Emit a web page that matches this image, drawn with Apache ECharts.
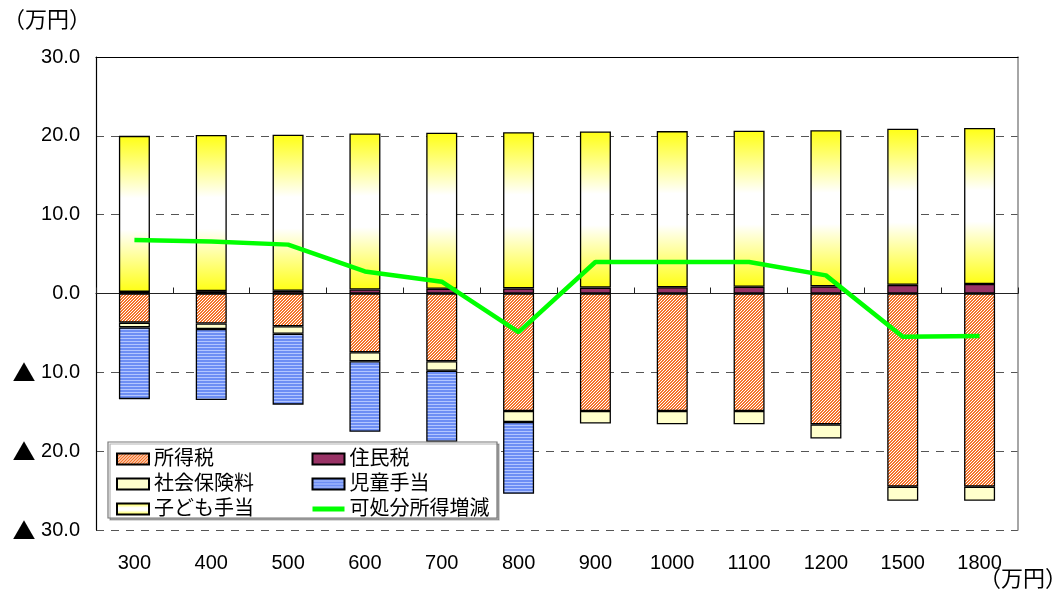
<!DOCTYPE html>
<html>
<head>
<meta charset="utf-8">
<script src="https://cdn.jsdelivr.net/npm/echarts@6/dist/echarts.min.js"></script>
<style>
  html, body { margin: 0; padding: 0; background: #fff; }
  #chart { width: 1057px; height: 591px; }
</style>
</head>
<body>
<div id="chart"></div>
<script>
// 年収別の家計への影響（万円）
const categories = ['300', '400', '500', '600', '700', '800', '900', '1000', '1100', '1200', '1500', '1800'];

const incomeTax       = [-3.7, -3.8, -4.15, -7.45, -8.6, -14.9, -14.9, -14.9, -14.9, -16.6, -24.5, -24.5];
const residentTax     = [0.2, 0.3, 0.35, 0.5, 0.6, 0.65, 0.75, 0.8, 0.85, 0.9, 1.1, 1.2];
const socialInsurance = [-0.6, -0.7, -0.95, -1.15, -1.2, -1.4, -1.6, -1.7, -1.7, -1.8, -1.8, -1.8];
const childBenefit    = [-9.1, -9.0, -9.0, -8.95, -9.0, -9.1, null, null, null, null, null, null];
const childAllowance  = [19.8, 19.8, 19.8, 19.8, 19.8, 19.8, 19.8, 19.8, 19.8, 19.8, 19.8, 19.8];
const disposableDiff  = [6.8, 6.6, 6.2, 2.8, 1.5, -4.9, 4.0, 4.0, 4.0, 2.3, -5.5, -5.4];

const yTickValues = [-30, -20, -10, 0, 10, 20, 30];
const yTickLabels = ['▲ 30.0', '▲ 20.0', '▲ 10.0', '0.0', '10.0', '20.0', '30.0'];
const unitLabel = '（万円）';

const FONT = '"Liberation Sans", "Noto Sans CJK JP", sans-serif';
const CJK = '"Noto Sans CJK JP", sans-serif';

// fine diagonal hatch (orange on white)
function hatchPattern() {
  const c = document.createElement('canvas');
  c.width = 3; c.height = 3;
  const g = c.getContext('2d');
  g.fillStyle = '#ffffff';
  g.fillRect(0, 0, 3, 3);
  g.fillStyle = '#f5742a';
  for (let i = 0; i < 3; i++) {
    g.fillRect(i, 2 - i, 1, 1);
    g.fillRect((i + 1) % 3, 2 - i, 1, 1);
  }
  return { image: c, repeat: 'repeat' };
}

// horizontal blue stripes
function stripePattern() {
  const c = document.createElement('canvas');
  c.width = 4; c.height = 3;
  const g = c.getContext('2d');
  g.fillStyle = '#6d8ef4';
  g.fillRect(0, 0, 4, 2);
  g.fillStyle = '#b3c6ff';
  g.fillRect(0, 2, 4, 1);
  return { image: c, repeat: 'repeat' };
}

const yellowGradient = {
  type: 'linear', x: 0, y: 0, x2: 0, y2: 1,
  colorStops: [
    { offset: 0, color: '#ffff14' },
    { offset: 0.4, color: '#ffffff' },
    { offset: 0.6, color: '#ffffff' },
    { offset: 1, color: '#ffff14' }
  ]
};

function barSeries(name, data, color) {
  return {
    type: 'bar',
    name: name,
    stack: 'total',
    barWidth: 31,
    xAxisIndex: 0,
    data: data,
    itemStyle: { color: color, borderColor: '#000', borderWidth: 1.3 },
    emphasis: { disabled: true }
  };
}

const chart = echarts.init(document.getElementById('chart'));

chart.setOption({
  animation: false,
  backgroundColor: '#ffffff',
  textStyle: { fontFamily: FONT },
  grid: { left: 96, right: 39, top: 57, bottom: 61, show: false },
  xAxis: [
    {
      // zero line with upward ticks between categories
      type: 'category',
      data: categories,
      axisLine: { onZero: true, lineStyle: { color: '#222', width: 1.2 } },
      axisTick: { show: true, inside: true, length: 6, lineStyle: { color: '#222' } },
      axisLabel: { show: false },
      splitLine: { show: false }
    },
    {
      // category labels along the bottom
      type: 'category',
      data: categories,
      position: 'bottom',
      axisLine: { show: false, onZero: false },
      axisTick: { show: false },
      axisLabel: { color: '#000', fontSize: 20, fontFamily: FONT, margin: 23 }
    },
    {
      // top frame
      type: 'category',
      data: categories,
      position: 'top',
      axisLine: { show: true, onZero: false, lineStyle: { color: '#000', width: 1.2 } },
      axisTick: { show: false },
      axisLabel: { show: false }
    }
  ],
  yAxis: [
    {
      type: 'value',
      min: -30, max: 30, interval: 10,
      axisLine: { show: true, lineStyle: { color: '#000', width: 1.2 } },
      axisTick: { show: false },
      axisLabel: {
        color: '#000', fontSize: 20, fontFamily: FONT, margin: 16,
        formatter: function (v) {
          const i = yTickValues.indexOf(Math.round(v));
          if (i < 0) return '';
          const s = yTickLabels[i];
          return s.charAt(0) === '▲' ? '{tri|▲} ' + s.slice(2) : s;
        },
        rich: {
          tri: { fontFamily: CJK, fontSize: 23, color: '#000' }
        }
      },
      splitLine: { show: true, lineStyle: { color: '#555', type: [8, 7], width: 1.2 } }
    },
    {
      // right frame
      type: 'value',
      min: -30, max: 30, interval: 10,
      position: 'right',
      axisLine: { show: true, lineStyle: { color: '#888', width: 1.5 } },
      axisTick: { show: false },
      axisLabel: { show: false },
      splitLine: { show: false }
    }
  ],
  legend: [
    {
      orient: 'vertical',
      left: 116, top: 449,
      padding: 0,
      icon: 'rect',
      itemWidth: 32, itemHeight: 11, itemGap: 5,
      selectedMode: false,
      textStyle: { fontSize: 20, color: '#000', fontFamily: FONT },
      data: ['所得税', '社会保険料', '子ども手当']
    },
    {
      orient: 'vertical',
      left: 310, top: 449,
      padding: 0,
      itemWidth: 32, itemHeight: 11, itemGap: 5,
      selectedMode: false,
      textStyle: { fontSize: 20, color: '#000', fontFamily: FONT },
      data: [
        { name: '住民税', icon: 'rect' },
        { name: '児童手当', icon: 'rect' },
        { name: '可処分所得増減', itemStyle: { opacity: 0 }, lineStyle: { width: 5, color: '#00ff00' } }
      ]
    }
  ],
  graphic: [
    {
      type: 'rect',
      z: 3,
      shape: { x: 108, y: 442, width: 389, height: 76 },
      style: { fill: '#ffffff', stroke: '#777', lineWidth: 1.2, shadowColor: 'rgba(0,0,0,0.3)', shadowOffsetX: 2, shadowOffsetY: 2, shadowBlur: 0 }
    },
    {
      type: 'text',
      left: 3, top: 8,
      style: { text: unitLabel, fontSize: 22, fontFamily: CJK, fill: '#000' }
    },
    {
      type: 'text',
      right: -10, top: 567,
      style: { text: unitLabel, fontSize: 22, fontFamily: CJK, fill: '#000' }
    }
  ],
  series: [
    barSeries('所得税', incomeTax, hatchPattern()),
    barSeries('住民税', residentTax, '#993366'),
    barSeries('社会保険料', socialInsurance, '#ffffcc'),
    barSeries('児童手当', childBenefit, stripePattern()),
    barSeries('子ども手当', childAllowance, yellowGradient),
    {
      name: '可処分所得増減',
      type: 'line',
      data: disposableDiff,
      xAxisIndex: 0,
      z: 5,
      symbol: 'none',
      showSymbol: false,
      lineStyle: { color: '#00ff00', width: 4.5 },
      itemStyle: { color: '#00ff00' },
      emphasis: { disabled: true }
    }
  ]
});
</script>
</body>
</html>
